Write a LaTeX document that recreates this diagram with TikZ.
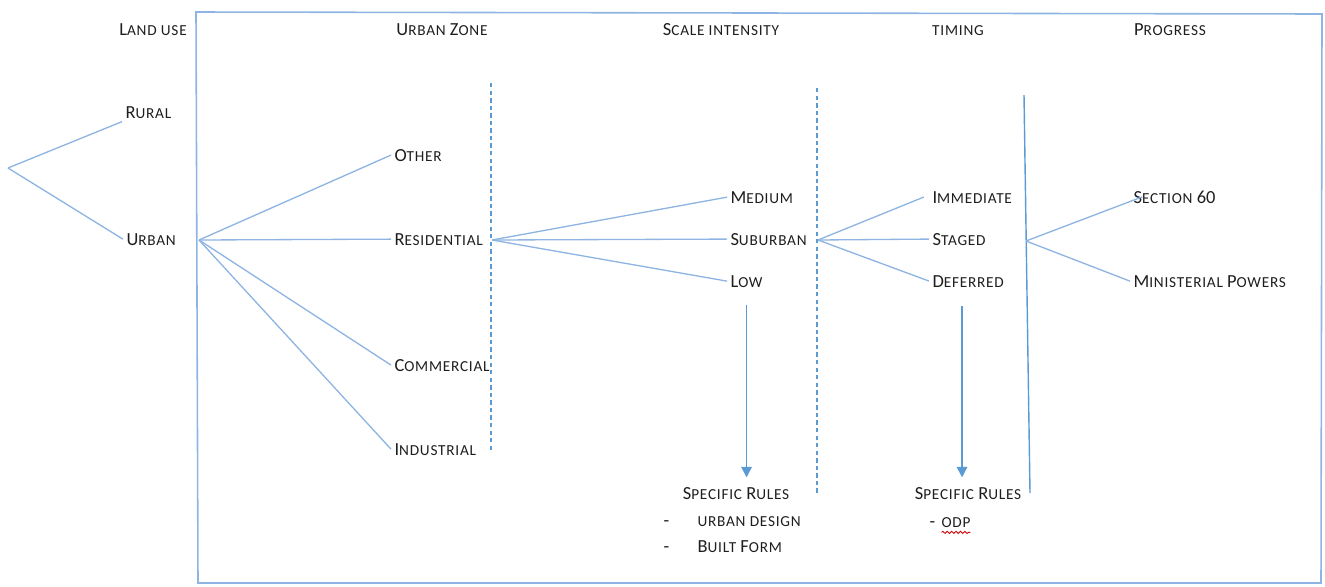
\documentclass[tikz,border=0pt]{standalone}
\usepackage{fontspec}
\setmainfont{Carlito}
\newfontfamily\lcfont[LetterSpace=5]{Carlito}
\usetikzlibrary{arrows.meta,decorations.pathmorphing}

\definecolor{treeline}{HTML}{8DB4E2}
\definecolor{rulecol}{HTML}{5B9BD5}
\definecolor{inkcol}{HTML}{1E1E1E}

% lower-case part of a small-caps word
\newcommand\lc[1]{{\lcfont\fontsize{8.7}{10}\selectfont\MakeUppercase{#1}}}

\tikzset{
	lbl/.style={anchor=base west,inner sep=2pt,outer sep=0pt,text=inkcol,font=\fontsize{10.5}{12}\selectfont},
	head/.style={lbl,anchor=base},
	branch/.style={draw=treeline,line width=0.75pt},
	frame/.style={draw=treeline,line width=0.9pt},
	divider/.style={draw=rulecol,line width=0.7pt,dash pattern=on 2.5pt off 1.8pt},
	flow/.style={draw=rulecol,line width=0.8pt,-{Triangle[length=6pt,width=6pt]}},
}

\begin{document}
\begin{tikzpicture}[x=0.02cm,y=-0.02cm]
	\useasboundingbox (0,0) rectangle (1325,586);

	% outer frame
	\draw[frame] (196,12) -- (1322,14) -- (1321,583) -- (198,583) -- cycle;

	% column headings
	\node[head] (hland) at (153,35) {L\lc{and use}};
	\node[head] (hzone) at (442,35) {U\lc{rban} Z\lc{one}};
	\node[head] (hscale) at (721,35) {S\lc{cale intensity}};
	\node[head] (htime) at (958,35) {\lc{timing}};
	\node[head] (hprog) at (1170,35) {P\lc{rogress}};

	% land use
	\coordinate (root) at (8,168);
	\node[lbl] (rural) at (122,118) {R\lc{ural}};
	\node[lbl] (urban) at (123,245) {U\lc{rban}};
	\draw[branch] (root) -- (rural.south west);
	\draw[branch] (root) -- (urban.west);

	% urban zone
	\coordinate (uo) at (199,240);
	\node[lbl] (other) at (391,161) {O\lc{ther}};
	\node[lbl] (resid) at (391,245) {R\lc{esidential}};
	\node[lbl] (comm) at (391,371) {C\lc{ommercial}};
	\node[lbl] (indus) at (391,455) {I\lc{ndustrial}};
	\foreach \n in {other,resid,comm,indus}
		\draw[branch] (uo) -- (\n.west);
	\draw[divider] (491,83) -- (491,453);

	% scale intensity
	\coordinate (ro) at (492,240);
	\node[lbl] (medium) at (727,203) {M\lc{edium}};
	\node[lbl] (suburb) at (727,245) {S\lc{uburban}};
	\node[lbl] (low) at (727,287) {L\lc{ow}};
	\foreach \n in {medium,suburb,low}
		\draw[branch] (ro) -- (\n.west);
	\draw[divider] (817,88) -- (817,493);

	% timing
	\coordinate (so) at (818,240);
	\node[lbl] (immed) at (929,203) {I\lc{mmediate}};
	\node[lbl] (staged) at (929,245) {S\lc{taged}};
	\node[lbl] (defer) at (929,287) {D\lc{eferred}};
	\draw[branch] (so) -- ([xshift=-3pt]immed.west);
	\draw[branch] (so) -- (staged.west);
	\draw[branch] (so) -- (defer.west);
	\draw[draw=rulecol,line width=0.8pt] (1024,95) -- (1030,493);

	% progress
	\coordinate (po) at (1026,241);
	\node[lbl] (sect) at (1130,203) {S\lc{ection} 60};
	\node[lbl] (minis) at (1130,287) {M\lc{inisterial} P\lc{owers}};
	\draw[branch] (po) -- ([xshift=7pt]sect.west);
	\draw[branch] (po) -- (minis.west);

	% specific rules under scale intensity
	\node[head] (rules1) at (736,499) {S\lc{pecific} R\lc{ules}};
	\node[lbl] (dash1) at (660,526) {-};
	\node[lbl] (design) at (694,526) {\lc{urban design}};
	\node[lbl] (dash2) at (660,552) {-};
	\node[lbl] (built) at (694,552) {B\lc{uilt} F\lc{orm}};
	\draw[flow] ([yshift=-8pt]low.south) -- ([yshift=3.5pt]low.south |- rules1.north);

	% specific rules under timing
	\node[head] (rules2) at (968,499) {S\lc{pecific} R\lc{ules}};
	\node[lbl] (dash3) at (926,527) {-};
	\node[lbl] (odp) at (938,527) {\lc{odp}};
	\draw[red!80!black,line width=0.5pt,decorate,decoration={snake,amplitude=0.6pt,segment length=2.5pt}]
		([xshift=2pt,yshift=-1pt]odp.south west) -- ([xshift=-2pt,yshift=-1pt]odp.south east);
	\draw[flow] ([xshift=-3.5pt,yshift=-9pt]defer.south) -- ([xshift=-3.5pt,yshift=3.5pt]defer.south |- rules2.north);
\end{tikzpicture}
\end{document}
